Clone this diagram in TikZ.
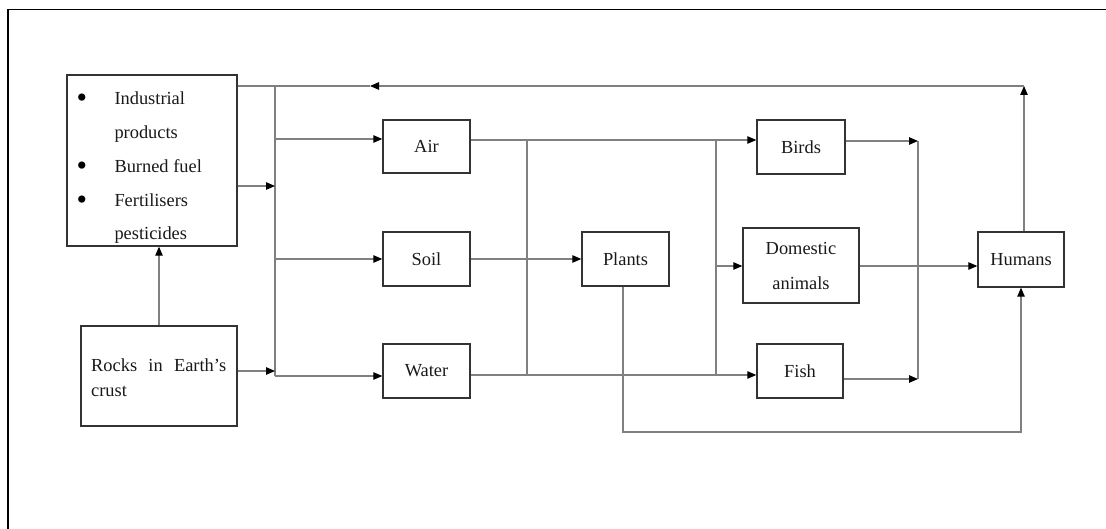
\documentclass[tikz,border=0pt]{standalone}
\usepackage{fontspec}
\setmainfont{Liberation Serif}
\usetikzlibrary{arrows.meta}
\begin{document}
\begin{tikzpicture}[x=1pt,y=-1pt,
 box/.style={draw=black!80,line width=1.4pt,inner sep=0pt,font=\fontsize{18.4}{22}\selectfont,text=black!90},
 conn/.style={draw=black!50,line width=1.1pt},
 arr/.style={conn,-{Triangle[length=9pt,width=7.5pt,color=black]}},
 txt/.style={font=\fontsize{18.4}{22}\selectfont,text=black!90,inner sep=0pt},
 dot/.style={font=\fontsize{30}{30}\selectfont,text=black,inner sep=0pt}]
\useasboundingbox (0,0) rectangle (1106,529);
\draw[line width=1.6pt] (8,529) -- (8,9.5) -- (1106,9.5);
% boxes
\node[box,minimum width=170pt,minimum height=171pt] (ind) at (152,160.5) {};
\node[box,minimum width=156pt,minimum height=100pt] (rocks) at (159,376) {};
\node[box,minimum width=87pt,minimum height=53pt] (air) at (426.5,146.5) {Air};
\node[box,minimum width=87pt,minimum height=54pt] (soil) at (426.5,259) {Soil};
\node[box,minimum width=87pt,minimum height=54pt] (water) at (426.5,371) {Water};
\node[box,minimum width=87pt,minimum height=54pt] (plants) at (625.5,259) {Plants};
\node[box,minimum width=88pt,minimum height=54pt] (birds) at (801,147) {Birds};
\node[box,minimum width=116pt,minimum height=75pt,align=center,font=\fontsize{18.4}{35}\selectfont] (dom) at (801,265.5) {Domestic\\animals};
\node[box,minimum width=86pt,minimum height=54pt] (fish) at (800,371) {Fish};
\node[box,minimum width=86pt,minimum height=55pt] (hum) at (1021,259.5) {Humans};
% texts in the left boxes
\node[dot,anchor=base] (d1) at (82,108) {•};
\node[dot,anchor=base] (d2) at (82,175.5) {•};
\node[dot,anchor=base] (d3) at (82,209.5) {•};
\node[txt,anchor=base west] (t1) at (114.3,105) {Industrial};
\node[txt,anchor=base west] (t2) at (114.3,139) {products};
\node[txt,anchor=base west] (t3) at (114.3,172.5) {Burned fuel};
\node[txt,anchor=base west] (t4) at (114.3,206.5) {Fertilisers};
\node[txt,anchor=base west] (t5) at (114.3,240) {pesticides};
\node[txt,anchor=base west] (r1) at (91,371.5) {\hbox to 135pt{Rocks\hfil in\hfil Earth’s}};
\node[txt,anchor=base west] (r2) at (91,396) {crust};
% coordinates
\coordinate (bt) at (275,86);
\coordinate (bb) at (275,376);
\coordinate (hc) at (1024,86);
\coordinate (tm) at (370,86);
\coordinate (bi) at (275,186);
\coordinate (br) at (275,371);
\coordinate (ba) at (275,139);
\coordinate (bs) at (275,259);
\coordinate (ay) at (0,140);
\coordinate (wy) at (0,375);
\coordinate (v1t) at (527,140);
\coordinate (v1b) at (527,376);
\coordinate (v2t) at (716,140);
\coordinate (v2b) at (716,376);
\coordinate (v2d) at (716,266);
\coordinate (rt) at (918,141);
\coordinate (rb) at (918,379);
\coordinate (pb) at (623,432);
% connectors
\draw[arr] (hum.north -| hc) -- (hc);
\draw[arr] (hc) -- (tm);
\draw[conn] (tm) -- (ind.east |- tm);
\draw[conn] (bt) -- (bb);
\draw[arr] (ind.east |- bi) -- (bi);
\draw[arr] (rocks.east |- br) -- (br);
\draw[arr] (rocks.north) -- (rocks.north |- ind.south);
\draw[arr] (ba) -- (air.west |- ba);
\draw[arr] (bs) -- (soil.west |- bs);
\draw[arr] (bb) -- (water.west |- bb);
\draw[arr] (air.east |- ay) -- (birds.west |- ay);
\draw[arr] (soil.east) -- (plants.west);
\draw[arr] (water.east |- wy) -- (fish.west |- wy);
\draw[conn] (v1t) -- (v1b);
\draw[conn] (v2t) -- (v2b);
\draw[arr] (v2d) -- (dom.west |- v2d);
\draw[arr] (dom.east |- v2d) -- (hum.west |- v2d);
\draw[arr] (birds.east |- rt) -- (rt);
\draw[arr] (fish.east |- rb) -- (rb);
\draw[conn] (rt) -- (rb);
\draw[arr] (plants.south -| pb) -- (pb) -- (pb -| hum.south) -- (hum.south);
\end{tikzpicture}
\end{document}
